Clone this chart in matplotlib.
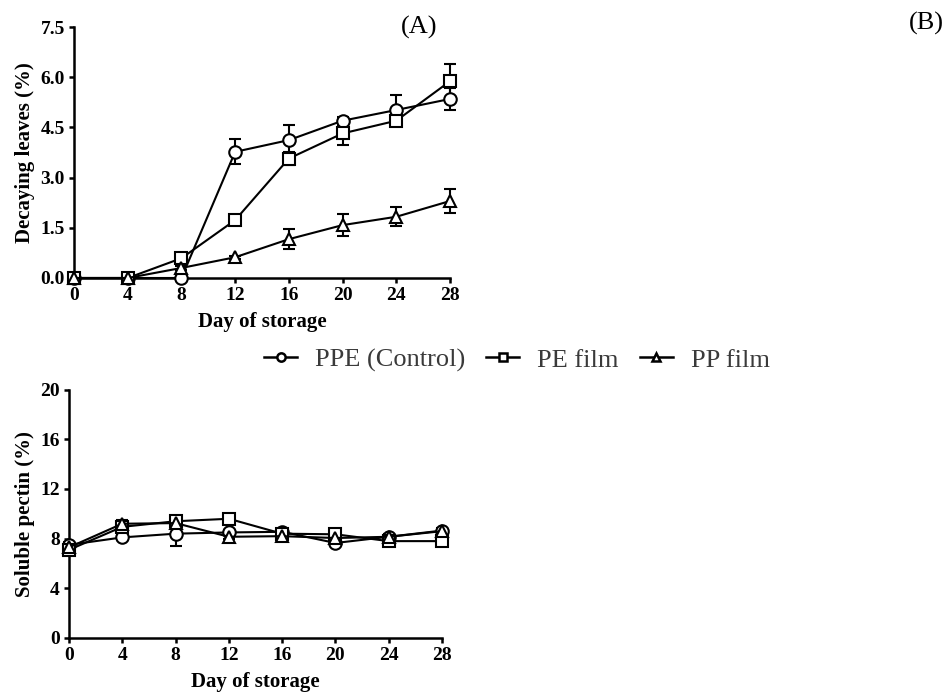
import matplotlib.pyplot as plt
from matplotlib.lines import Line2D

plt.rcParams['font.family'] = ['Liberation Serif', 'DejaVu Serif']

days = [0, 4, 8, 12, 16, 20, 24, 28]
labels = ["PPE (Control)", "PE film", "PP film"]
markers = ["o", "s", "^"]

# decaying leaves (%)
decay_ppe = [0, 0, 0, 3.77, 4.12, 4.70, 5.02, 5.35]
decay_pe = [0, 0, 0.59, 1.73, 3.57, 4.32, 4.70, 5.88]
decay_pp = [0, 0, 0.30, 0.62, 1.16, 1.58, 1.83, 2.30]
decay_ppe_err = [0, 0, 0, 0.37, 0.45, 0.12, 0.45, 0.33]
decay_pe_err = [0, 0, 0, 0.05, 0.20, 0.35, 0.12, 0.50]
decay_pp_err = [0, 0, 0.05, 0.05, 0.30, 0.33, 0.28, 0.35]

# soluble pectin (%)
pectin_ppe = [7.5, 8.1, 8.4, 8.5, 8.55, 7.65, 8.15, 8.65]
pectin_pe = [7.1, 8.95, 9.4, 9.6, 8.4, 8.35, 7.8, 7.8]
pectin_pp = [7.3, 9.2, 9.25, 8.15, 8.2, 8.05, 8.15, 8.6]
pectin_ppe_err = [0.2, 0.2, 1.0, 0.2, 0.2, 0.2, 0.2, 0.2]
pectin_pe_err = [0.2, 0.3, 0.3, 0.2, 0.2, 0.2, 0.2, 0.2]
pectin_pp_err = [0.2, 0.3, 0.2, 0.2, 0.2, 0.2, 0.2, 0.2]

TICK_FS = 14
LABEL_FS = 15


def style_axes(ax):
    for side in ["top", "right"]:
        ax.spines[side].set_visible(False)
    for side in ["left", "bottom"]:
        ax.spines[side].set_linewidth(1.8)
    ax.tick_params(direction="out", length=3.6, width=1.8, labelsize=TICK_FS, pad=3)
    for t in ax.get_xticklabels() + ax.get_yticklabels():
        t.set_fontweight("bold")
    ax.set_xlim(0, 28)
    ax.set_xticks(days)
    ax.set_xlabel("Day of storage", fontsize=LABEL_FS, fontweight="bold", labelpad=6)


def draw_series(ax, ys, errs):
    for y, e, m in zip(ys, errs, markers):
        ax.errorbar(days, y, yerr=e, color="black", linewidth=1.5, marker=m,
                    markersize=9, markerfacecolor="white", markeredgewidth=1.5,
                    capsize=4, capthick=1.5, elinewidth=1.5, clip_on=False, zorder=3)


fig = plt.figure(figsize=(9.5, 6.98), dpi=100)

ax1 = fig.add_axes([74 / 950, 1 - 278 / 698, 376 / 950, 251 / 698])
draw_series(ax1, [decay_ppe, decay_pe, decay_pp], [decay_ppe_err, decay_pe_err, decay_pp_err])
ax1.set_ylim(0, 7.5)
ax1.set_yticks([0, 1.5, 3.0, 4.5, 6.0, 7.5])
ax1.set_yticklabels(["0.0", "1.5", "3.0", "4.5", "6.0", "7.5"])
style_axes(ax1)
ax1.set_ylabel("Decaying leaves (%)", fontsize=LABEL_FS, fontweight="bold", labelpad=4)

ax2 = fig.add_axes([69 / 950, 1 - 638 / 698, 373 / 950, 248.4 / 698])
draw_series(ax2, [pectin_ppe, pectin_pe, pectin_pp], [pectin_ppe_err, pectin_pe_err, pectin_pp_err])
ax2.set_ylim(0, 20)
ax2.set_yticks([0, 4, 8, 12, 16, 20])
style_axes(ax2)
ax2.set_ylabel("Soluble pectin (%)", fontsize=LABEL_FS, fontweight="bold", labelpad=4)

fig.text(419 / 950, 1 - 27 / 698, "(A)", fontsize=19, ha="center", va="center")
fig.text(926 / 950, 1 - 23 / 698, "(B)", fontsize=19, ha="center", va="center")

handles = [Line2D([0], [0], color="black", linewidth=1.8, marker=m, markersize=6,
                  markerfacecolor="white", markeredgewidth=1.8) for m in markers]
fig.legend(handles, labels, loc="center", bbox_to_anchor=(517 / 950, 1 - 360 / 698),
           ncol=3, frameon=False, fontsize=19, handlelength=1.25, handletextpad=0.68,
           columnspacing=0.8, labelcolor="#3a3a3a")

fig.savefig("out.png", dpi=100)
